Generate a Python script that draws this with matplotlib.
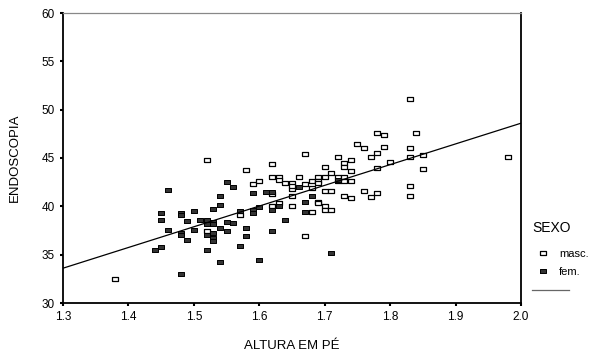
import matplotlib
matplotlib.use("Agg")
import matplotlib.pyplot as plt
from matplotlib.lines import Line2D
import numpy as np

plt.rcParams['font.family'] = ['Liberation Sans', 'DejaVu Sans']

masc_x = [1.38, 1.52, 1.52, 1.57, 1.58, 1.59, 1.60, 1.62, 1.62, 1.63, 1.63, 1.64, 1.65,
          1.66, 1.67, 1.67, 1.62, 1.65, 1.65, 1.65, 1.63, 1.62, 1.65, 1.67, 1.78, 1.79,
          1.75, 1.76, 1.79, 1.78, 1.77, 1.72, 1.73, 1.74, 1.73, 1.74, 1.80, 1.78, 1.70,
          1.71, 1.69, 1.70, 1.72, 1.73, 1.68, 1.69, 1.69, 1.72, 1.73, 1.74, 1.68, 1.70,
          1.71, 1.76, 1.77, 1.78, 1.73, 1.74, 1.69, 1.69, 1.70, 1.70, 1.71, 1.68, 1.83,
          1.84, 1.83, 1.83, 1.85, 1.98, 1.85, 1.83, 1.83]
masc_y = [32.5, 44.8, 37.5, 39.1, 43.75, 42.3, 42.6, 44.4, 43.0, 43.0, 42.7, 42.4, 42.4,
          43.0, 42.3, 45.4, 41.3, 41.8, 42.1, 41.1, 40.3, 40.0, 40.0, 36.9, 47.6, 47.4,
          46.5, 46.0, 46.1, 45.5, 45.1, 45.1, 44.5, 44.8, 44.1, 43.7, 44.6, 44.0, 44.1,
          43.4, 43.0, 43.0, 43.0, 43.0, 42.6, 42.6, 42.4, 42.6, 42.6, 42.6, 41.9, 41.6,
          41.6, 41.6, 41.0, 41.4, 41.1, 40.9, 40.5, 40.3, 40.0, 39.6, 39.6, 39.4, 51.1,
          47.6, 46.0, 45.1, 45.3, 45.1, 43.9, 42.1, 41.1]

fem_x = [1.46, 1.45, 1.48, 1.48, 1.50, 1.45, 1.49, 1.51, 1.52, 1.52, 1.46, 1.48, 1.48,
         1.50, 1.49, 1.52, 1.45, 1.44, 1.52, 1.48, 1.55, 1.56, 1.59, 1.61, 1.62, 1.66,
         1.54, 1.54, 1.53, 1.63, 1.62, 1.60, 1.59, 1.59, 1.57, 1.67, 1.67, 1.64, 1.53,
         1.53, 1.55, 1.56, 1.54, 1.55, 1.53, 1.58, 1.62, 1.58, 1.53, 1.53, 1.57, 1.60,
         1.54, 1.72, 1.68, 1.71]
fem_y = [41.7, 39.3, 39.3, 39.1, 39.5, 38.6, 38.5, 38.6, 38.6, 38.2, 37.6, 37.2, 37.0,
         37.6, 36.5, 37.0, 35.8, 35.5, 35.5, 33.0, 42.5, 42.0, 41.4, 41.5, 41.5, 42.0,
         41.1, 40.1, 39.7, 40.0, 39.6, 39.9, 39.6, 39.3, 39.5, 40.5, 39.4, 38.6, 38.4,
         38.2, 38.4, 38.3, 37.8, 37.5, 37.2, 37.8, 37.5, 36.9, 36.7, 36.4, 35.9, 34.4,
         34.2, 42.7, 41.1, 35.2]

fit_x = [1.3, 2.0]
fit_y = [33.6, 48.6]

x_ticks = [1.3, 1.4, 1.5, 1.6, 1.7, 1.8, 1.9, 2.0]
y_ticks = [30, 35, 40, 45, 50, 55, 60]

W, H = 599, 357
fig = plt.figure(figsize=(W / 100, H / 100), dpi=100)
ax = fig.add_axes([63 / W, 1 - 303 / H, (521 - 63) / W, (303 - 13) / H])

rect = [(-1, -0.7), (1, -0.7), (1, 0.7), (-1, 0.7), (-1, -0.7)]
MS = 4.2
ax.plot(masc_x, masc_y, linestyle='none', marker=rect, markersize=MS,
        markerfacecolor='white', markeredgecolor='black', markeredgewidth=0.9)
ax.plot(fem_x, fem_y, linestyle='none', marker=rect, markersize=MS,
        markerfacecolor='#333333', markeredgecolor='black', markeredgewidth=0.7)
ax.plot(fit_x, fit_y, color='black', linewidth=0.9)

ax.set_xlim(1.3, 2.0)
ax.set_ylim(30, 60)
ax.set_xticks(x_ticks)
ax.set_xticklabels([f"{v:.1f}" for v in x_ticks])
ax.set_yticks(y_ticks)
ax.set_yticklabels([str(v) for v in y_ticks])
ax.tick_params(direction='out', length=2, width=1.5, labelsize=8.5, pad=4)

for s in ['left', 'bottom', 'right']:
    ax.spines[s].set_color('black')
    ax.spines[s].set_linewidth(1.3)
ax.spines['top'].set_color('#888888')
ax.spines['top'].set_linewidth(0.9)

fig.text(15 / W, 1 - 158 / H, 'ENDOSCOPIA', rotation=90, ha='center', va='center', fontsize=9.5)
fig.text(292 / W, 1 - 346 / H, 'ALTURA EM PÉ', ha='center', va='center', fontsize=9.5)

# legend
fig.text(532 / W, 1 - 228 / H, 'SEXO', ha='left', va='center', fontsize=10)
fig.add_artist(Line2D([543 / W], [1 - 253 / H], marker=rect, markersize=MS, linestyle='none',
                      markerfacecolor='white', markeredgecolor='black', markeredgewidth=0.9,
                      transform=fig.transFigure))
fig.text(559 / W, 1 - 254 / H, 'masc.', ha='left', va='center', fontsize=8)
fig.add_artist(Line2D([543 / W], [1 - 271 / H], marker=rect, markersize=MS, linestyle='none',
                      markerfacecolor='#333333', markeredgecolor='black', markeredgewidth=0.7,
                      transform=fig.transFigure))
fig.text(559 / W, 1 - 272 / H, 'fem.', ha='left', va='center', fontsize=8)
fig.add_artist(Line2D([532 / W, 569 / W], [1 - 290 / H, 1 - 290 / H], color='#666666',
                      linewidth=0.9, transform=fig.transFigure))

fig.savefig('out.png', dpi=100)
